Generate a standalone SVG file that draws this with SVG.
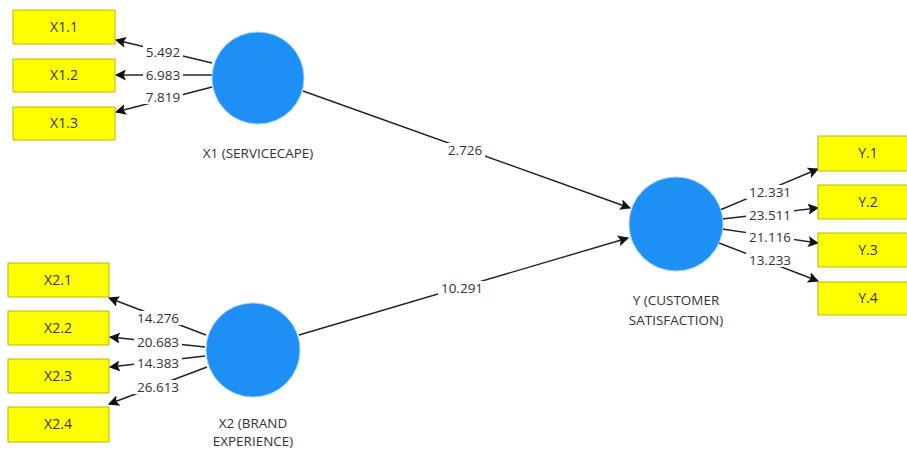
<svg xmlns="http://www.w3.org/2000/svg" width="907" height="452" viewBox="0 0 907 452">
<defs>
<marker id="ah" viewBox="0 0 10 10" refX="9" refY="5" markerWidth="11" markerHeight="11" markerUnits="userSpaceOnUse" orient="auto">
<path d="M0,0 L10,5 L0,10 L2,5 z" fill="#111"/>
</marker>
<style>
.box{fill:#ffff00;stroke:#b8b800;stroke-width:1}
.lv{fill:#1e8ff5;stroke:#9fd0ff;stroke-width:1}
.bt{font-family:"Open Sans","Noto Sans",sans-serif;font-size:14px;fill:#333;text-anchor:middle}
.nt{font-family:"Open Sans","Noto Sans",sans-serif;font-size:13.5px;fill:#333;text-anchor:middle}
.bg{fill:#fff}
.lt{font-family:"Open Sans","Noto Sans",sans-serif;font-size:13.5px;fill:#333;text-anchor:middle}
.ln{stroke:#222;stroke-width:1.4;fill:none;marker-end:url(#ah)}
</style>
</defs>
<rect width="907" height="452" fill="#fff"/>
<g id="connectors">
<line class="ln" x1="212" y1="63" x2="116" y2="40"/>
<line class="ln" x1="212" y1="75" x2="116" y2="75"/>
<line class="ln" x1="212" y1="87" x2="116" y2="112"/>
<line class="ln" x1="206" y1="335" x2="109" y2="298"/>
<line class="ln" x1="205" y1="347" x2="110" y2="337"/>
<line class="ln" x1="205" y1="356" x2="110" y2="367"/>
<line class="ln" x1="207" y1="367" x2="109" y2="404"/>
<line class="ln" x1="303" y1="91" x2="630" y2="208"/>
<line class="ln" x1="299" y1="335" x2="628" y2="238"/>
<line class="ln" x1="720" y1="210" x2="818" y2="169"/>
<line class="ln" x1="722" y1="219" x2="818" y2="208"/>
<line class="ln" x1="722" y1="229" x2="818" y2="243"/>
<line class="ln" x1="719" y1="243" x2="818" y2="281"/>
<rect class="bg" x="143" y="45" width="40" height="14"/>
<rect class="bg" x="143" y="68" width="40" height="14"/>
<rect class="bg" x="143" y="90" width="40" height="14"/>
<rect class="bg" x="134" y="311" width="48" height="14"/>
<rect class="bg" x="134" y="335" width="48" height="14"/>
<rect class="bg" x="134" y="356" width="48" height="14"/>
<rect class="bg" x="134" y="380" width="48" height="14"/>
<rect class="bg" x="445" y="143" width="40" height="14"/>
<rect class="bg" x="438" y="281" width="48" height="14"/>
<rect class="bg" x="746" y="185" width="48" height="14"/>
<rect class="bg" x="746" y="208" width="48" height="14"/>
<rect class="bg" x="746" y="230" width="48" height="14"/>
<rect class="bg" x="746" y="253" width="48" height="14"/>
<text class="nt" x="163" y="57">5.492</text>
<text class="nt" x="163" y="80">6.983</text>
<text class="nt" x="163" y="102">7.819</text>
<text class="nt" x="158" y="323">14.276</text>
<text class="nt" x="158" y="347">20.683</text>
<text class="nt" x="158" y="368">14.383</text>
<text class="nt" x="158" y="392">26.613</text>
<text class="nt" x="465" y="155">2.726</text>
<text class="nt" x="462" y="293">10.291</text>
<text class="nt" x="770" y="197">12.331</text>
<text class="nt" x="770" y="220">23.511</text>
<text class="nt" x="770" y="242">21.116</text>
<text class="nt" x="770" y="265">13.233</text>
</g>
<g id="X1.1"><rect class="box" x="13" y="10" width="102" height="34"/><text class="bt" x="64" y="32">X1.1</text></g>
<g id="X1.2"><rect class="box" x="13" y="59" width="102" height="33"/><text class="bt" x="64" y="80">X1.2</text></g>
<g id="X1.3"><rect class="box" x="13" y="107" width="102" height="33"/><text class="bt" x="64" y="128">X1.3</text></g>
<g id="X2.1"><rect class="box" x="8" y="263" width="101" height="34"/><text class="bt" x="58" y="285">X2.1</text></g>
<g id="X2.2"><rect class="box" x="8" y="311" width="101" height="34"/><text class="bt" x="58" y="333">X2.2</text></g>
<g id="X2.3"><rect class="box" x="8" y="359" width="101" height="34"/><text class="bt" x="58" y="381">X2.3</text></g>
<g id="X2.4"><rect class="box" x="8" y="407" width="101" height="35"/><text class="bt" x="58" y="429">X2.4</text></g>
<g id="Y.1"><rect class="box" x="818" y="136" width="100" height="35"/><text class="bt" x="868" y="158">Y.1</text></g>
<g id="Y.2"><rect class="box" x="818" y="185" width="100" height="34"/><text class="bt" x="868" y="207">Y.2</text></g>
<g id="Y.3"><rect class="box" x="818" y="233" width="100" height="34"/><text class="bt" x="868" y="255">Y.3</text></g>
<g id="Y.4"><rect class="box" x="818" y="282" width="100" height="33"/><text class="bt" x="868" y="303">Y.4</text></g>
<g id="X1"><circle class="lv" cx="258" cy="78" r="46"/><text class="lt" x="258" y="158">X1 (SERVICECAPE)</text></g>
<g id="X2"><circle class="lv" cx="253" cy="350" r="47"/><text class="lt" x="253" y="428">X2 (BRAND</text><text class="lt" x="253" y="446">EXPERIENCE)</text></g>
<g id="Y"><circle class="lv" cx="676" cy="224" r="47"/><text class="lt" x="676" y="305">Y (CUSTOMER</text><text class="lt" x="676" y="325">SATISFACTION)</text></g>
</svg>
